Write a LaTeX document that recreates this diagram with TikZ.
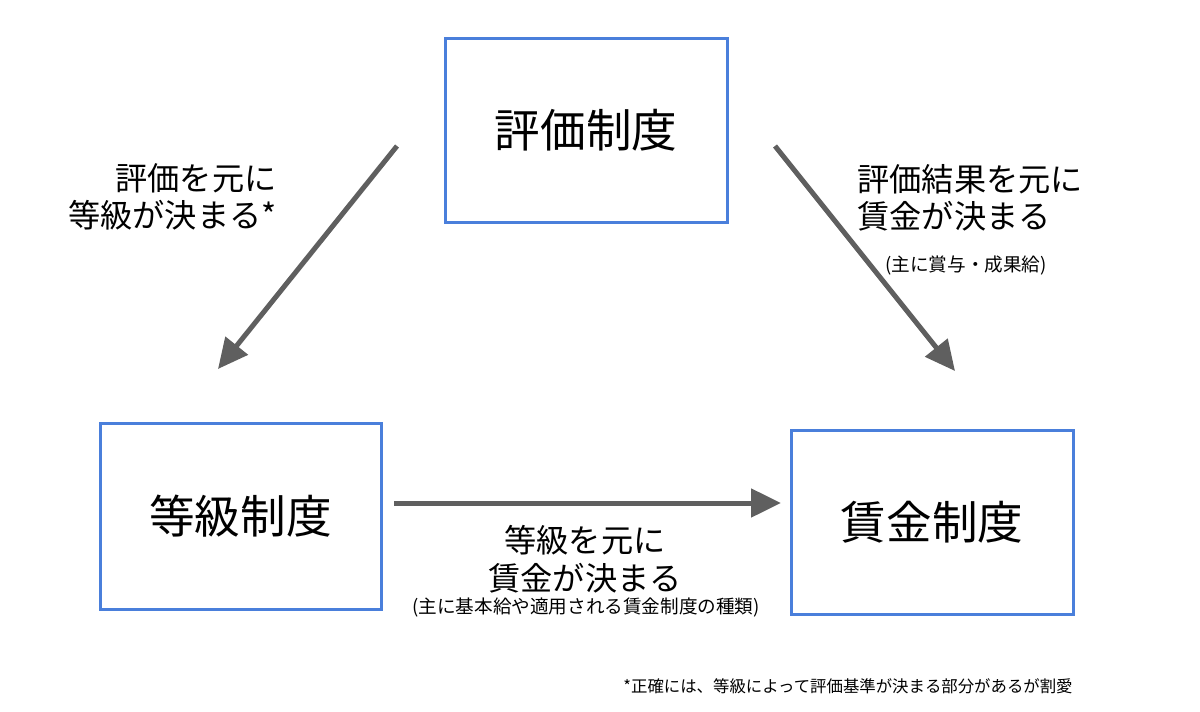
\documentclass[tikz,border=0pt]{standalone}
\usepackage{fontspec}
\setmainfont{Noto Sans CJK JP}
\usetikzlibrary{arrows.meta}
\definecolor{bblue}{HTML}{4A7FDB}
\definecolor{agray}{HTML}{5F5F5F}
\begin{document}
\begin{tikzpicture}[x=0.5pt,y=-0.5pt,
  box/.style={draw=bblue,line width=1.5pt,inner sep=0pt,font=\fontsize{22.8}{26}\selectfont},
  arr/.style={draw=agray,line width=2.5pt,-{Triangle[length=15pt,width=14pt]}},
  lab/.style={font=\fontsize{16.1}{18.8}\selectfont,inner sep=0pt},
  small/.style={font=\fontsize{9.3}{11}\selectfont,inner sep=0pt}]
\useasboundingbox (0,0) rectangle (1200,712);
\node[box,minimum width=141pt,minimum height=92pt] (hyoka) at (586,130) {評価制度};
\node[box,minimum width=140.5pt,minimum height=93pt] (tokyu) at (240.5,516) {等級制度};
\node[box,minimum width=141pt,minimum height=92pt] (chingin) at (932,522) {賃金制度};
\coordinate (a1s) at (397,146); \coordinate (a1e) at (218,369);
\coordinate (a2s) at (775,146); \coordinate (a2e) at (955,371);
\coordinate (a3s) at (394,503); \coordinate (a3e) at (781,503);
\draw[arr] (a1s) -- (a1e);
\draw[arr] (a2s) -- (a2e);
\draw[arr] (a3s) -- (a3e);
\node[lab,align=right,anchor=east] (l1) at (277,197) {評価を元に\\等級が決まる*};
\node[lab,align=left,anchor=west] (l2) at (857,198) {評価結果を元に\\賃金が決まる};
\node[small] (l2s) at (966,265) {(主に賞与・成果給)};
\node[lab,align=center] (l3) at (585,559) {等級を元に\\賃金が決まる};
\node[small] (l3s) at (586,607) {(主に基本給や適用される賃金制度の種類)};
\node[small,anchor=east,font=\fontsize{8.2}{10}\selectfont] (fn) at (1073,686) {*正確には、等級によって評価基準が決まる部分があるが割愛};
\end{tikzpicture}
\end{document}
